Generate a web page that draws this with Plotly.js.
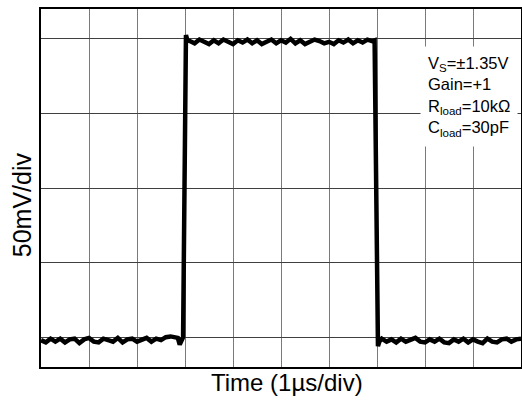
<!DOCTYPE html>
<html>
<head>
<meta charset="utf-8">
<script src="https://cdn.plot.ly/plotly-3.0.1.min.js"></script>
<style>html,body{margin:0;padding:0;background:#fff;}#chart{width:522px;height:400px;}</style>
</head>
<body>
<div id="chart"></div>
<script>
// Time in divisions (1 µs/div), voltage in divisions (50 mV/div)
var lowATime = [0,0.1,0.2,0.3,0.4,0.5,0.6,0.7,0.8,0.9,1.0,1.1,1.2,1.3,1.4,1.5,1.6,1.7,1.8,1.9,2.0,2.1,2.2,2.3,2.4,2.5,2.6,2.7,2.8,2.85,2.89,2.93,2.96];
var lowAVal  = [-0.04,-0.07,-0.02,-0.06,-0.02,-0.07,-0.03,-0.02,-0.08,-0.03,-0.01,-0.06,-0.07,-0.02,-0.04,-0.06,-0.01,-0.07,-0.03,-0.02,-0.06,-0.04,-0.01,-0.06,-0.02,-0.04,0.0,0.01,0.0,-0.01,-0.1,-0.04,0.0];
var highTime = [3.02,3.05,3.1,3.2,3.3,3.4,3.5,3.6,3.7,3.8,3.9,4.0,4.1,4.2,4.3,4.4,4.5,4.6,4.7,4.8,4.9,5.0,5.1,5.2,5.3,5.4,5.5,5.6,5.7,5.8,5.9,6.0,6.1,6.2,6.3,6.4,6.5,6.6,6.7,6.8,6.9,6.95];
var highVal  = [4.05,3.98,3.97,3.94,3.99,3.96,3.93,3.98,3.94,3.99,3.96,3.93,3.98,3.95,3.99,3.94,3.98,3.93,3.96,3.99,3.94,3.98,3.95,4.0,3.94,3.98,3.93,3.96,3.99,3.97,3.94,3.96,3.93,3.98,3.95,3.99,3.94,3.98,3.95,3.99,3.97,3.98];
var lowBTime = [7.02,7.05,7.1,7.2,7.3,7.4,7.5,7.6,7.7,7.8,7.9,8.0,8.1,8.2,8.3,8.4,8.5,8.6,8.7,8.8,8.9,9.0,9.1,9.2,9.3,9.4,9.5,9.6,9.7,9.8,9.9,10.0];
var lowBVal  = [-0.12,-0.06,-0.02,-0.06,-0.03,-0.07,-0.02,-0.06,-0.03,-0.01,-0.06,-0.07,-0.03,-0.06,-0.02,-0.07,-0.08,-0.03,-0.06,-0.02,-0.07,-0.03,-0.06,-0.08,-0.02,-0.06,-0.07,-0.03,-0.02,-0.06,-0.03,-0.02];

var xTitle = 'Time (1µs/div)';
var yTitle = '50mV/div';
var noteText = 'V<sub>S</sub>=±1.35V<br>Gain=+1<br>R<sub>load</sub>=10kΩ<br>C<sub>load</sub>=30pF';

var FONT = 'Liberation Sans, Arial, sans-serif';
var xs = lowATime.concat(highTime, lowBTime);
var ys = lowAVal.concat(highVal, lowBVal);

var trace = {
  x: xs, y: ys, type: 'scatter', mode: 'lines',
  line: {color: '#000', width: 4.5},
  hoverinfo: 'skip'
};

var layout = {
  width: 522, height: 400,
  margin: {l: 41, r: 1, t: 9, b: 33},
  paper_bgcolor: '#fff', plot_bgcolor: '#fff',
  showlegend: false,
  font: {family: FONT, color: '#000'},
  xaxis: {
    range: [0, 10], dtick: 1, tick0: 0, showticklabels: false, ticks: '',
    showgrid: true, gridcolor: '#7a7a7a', gridwidth: 1, zeroline: false,
    showline: true, linecolor: '#000', linewidth: 2, mirror: true
  },
  yaxis: {
    range: [-0.4, 4.4], dtick: 1, tick0: 0, showticklabels: false, ticks: '',
    showgrid: true, gridcolor: '#404040', gridwidth: 1, zeroline: false,
    showline: true, linecolor: '#000', linewidth: 2, mirror: true
  },
  annotations: [
    {
      xref: 'paper', yref: 'paper', x: 0.789, y: 0.896,
      xanchor: 'left', yanchor: 'top', align: 'left',
      text: noteText, showarrow: false,
      font: {size: 16.5, family: FONT, color: '#000'},
      bgcolor: '#fff', borderpad: 7
    },
    {
      xref: 'paper', yref: 'paper', x: 0.512, y: 0.0,
      xanchor: 'center', yanchor: 'top',
      text: xTitle, showarrow: false,
      font: {size: 24, family: FONT, color: '#000'}
    },
    {
      xref: 'paper', yref: 'paper', x: -0.038, y: 0.454,
      xanchor: 'center', yanchor: 'middle', textangle: -90,
      text: yTitle, showarrow: false,
      font: {size: 25, family: FONT, color: '#000'}
    }
  ]
};

Plotly.newPlot('chart', [trace], layout, {staticPlot: true, displayModeBar: false});
</script>
</body>
</html>
